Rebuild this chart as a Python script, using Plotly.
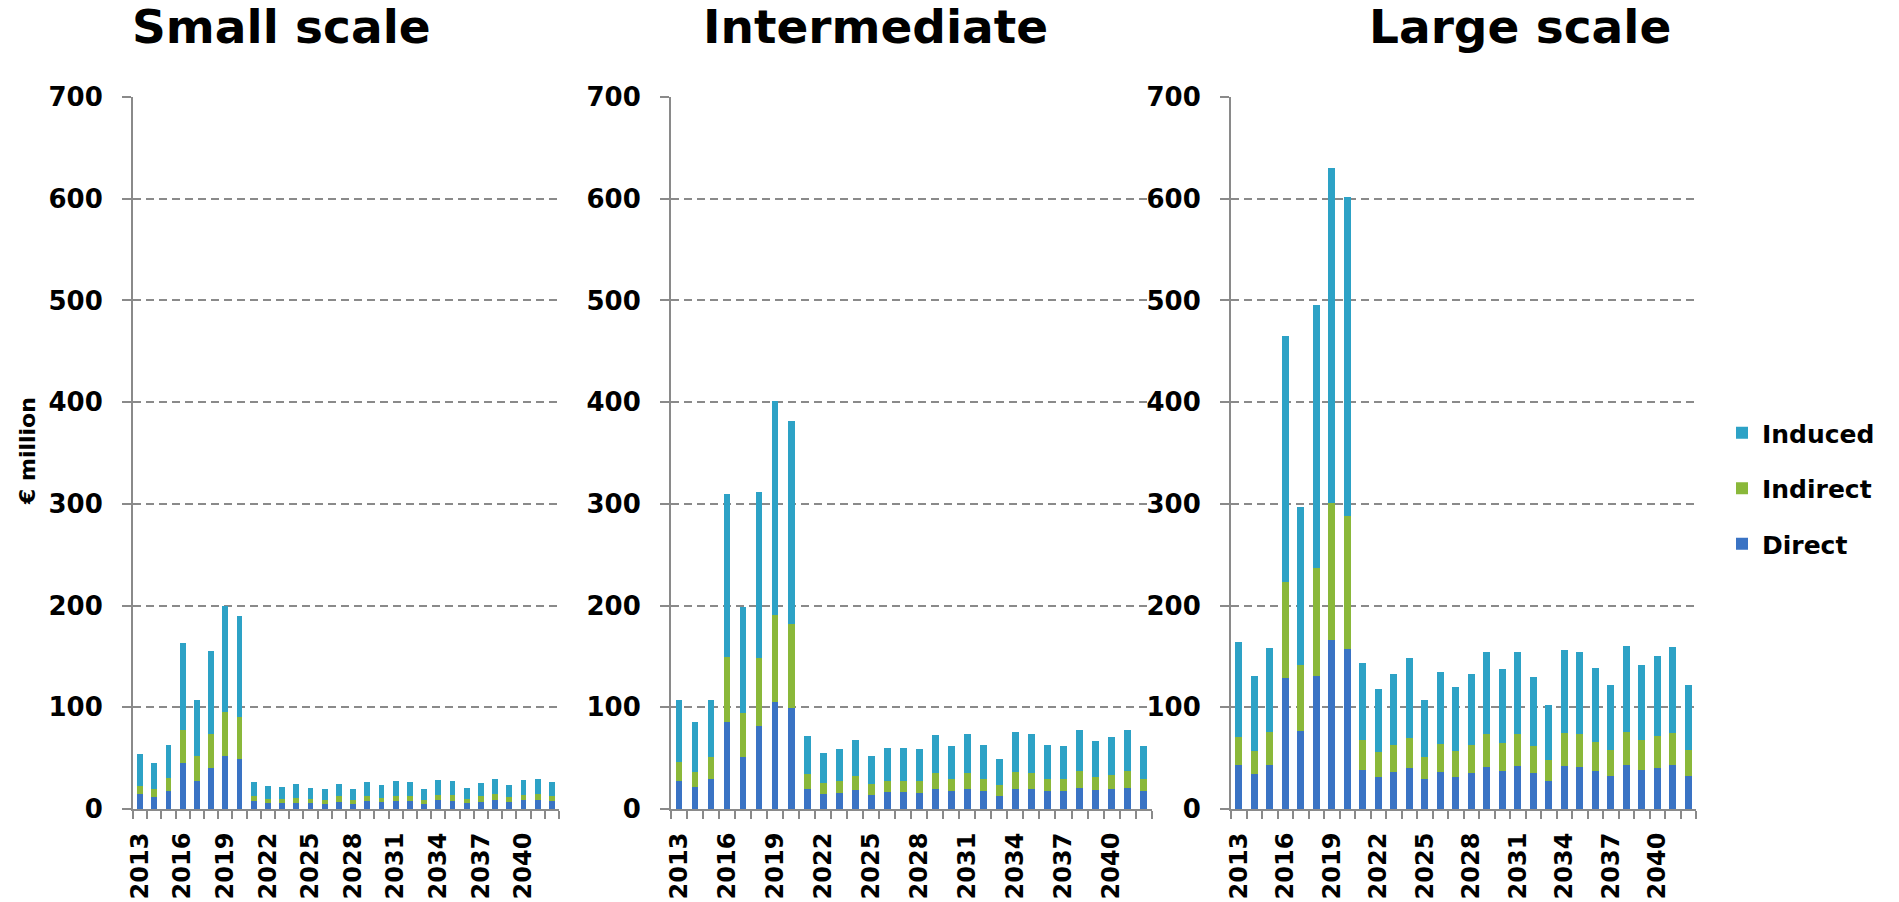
import plotly.graph_objects as go

years = list(range(2013, 2043))
tick_years = years[::3]
tick_labels = [str(y) for y in tick_years]
panel_titles = ["Small scale", "Intermediate", "Large scale"]
series_names = ["Direct", "Indirect", "Induced"]
y_ticks = [0, 100, 200, 300, 400, 500, 600, 700]
y_title = "€ million"

small_direct = [14.5, 12, 17.4, 45.5, 27.9, 40.2, 52, 49.4, 8.3, 6, 6, 6, 5.5, 5, 7, 5, 7.5, 6.5, 8, 7.5, 5, 8.5, 8, 6, 7, 8.5, 6.5, 8.5, 9, 7.5]
small_indirect = [8.5, 7.4, 12.6, 32.5, 23.8, 33.7, 43, 40.6, 4.2, 4, 4, 5, 4.5, 4, 5.5, 4, 5.5, 4.5, 5, 5.5, 4, 5.5, 6, 4, 6, 6.5, 5, 5.5, 6, 5.5]
small_induced = [31, 25.6, 33.4, 85, 55.7, 81.5, 105, 99.6, 14.5, 13, 12, 13.6, 11, 11, 12.5, 11, 14, 12.7, 15, 14, 11, 15, 14, 11, 13, 14.5, 12.5, 14.5, 14.5, 14]

inter_direct = [27.8, 21.9, 29.1, 85.6, 51.3, 81.7, 105.2, 99.3, 19.3, 14.4, 16, 19, 13.7, 16.4, 16.4, 16, 19.3, 17.4, 20, 17.4, 12.7, 20, 19.3, 17.4, 17.4, 21, 18.3, 19.3, 21, 17.4]
inter_indirect = [18.6, 14.7, 22.2, 63.7, 43.1, 66.7, 86, 82.7, 15.4, 11.6, 12, 13.4, 10.5, 11.6, 11.6, 12, 16, 11.7, 15.3, 12.4, 10.5, 16.3, 16.3, 12.4, 11.7, 16, 13.1, 13.7, 16, 11.7]
inter_induced = [60.5, 49, 55.6, 160.2, 103.9, 163.4, 210.4, 199.4, 36.6, 29, 30.8, 35.9, 27.5, 31.8, 31.8, 31.2, 37.6, 32.7, 38.6, 33.6, 25.5, 39.2, 38.3, 33.3, 32.7, 40.2, 35, 37.6, 40.2, 32.7]

large_direct = [43.3, 34.1, 43.3, 128.6, 76.6, 130.7, 166, 157.7, 38.6, 31.9, 36.5, 39.9, 29.2, 36.5, 31.9, 35.2, 41.5, 37.2, 42.2, 35.2, 27.2, 42.2, 41.5, 37.2, 32.6, 42.9, 37.9, 40.2, 42.9, 32.6]
large_indirect = [27.4, 23.3, 32, 94.4, 64.9, 106.1, 135.3, 129.9, 29.4, 24.6, 26.6, 30.2, 21.6, 27.6, 25.2, 27.9, 31.9, 27.6, 31.2, 26.3, 21.3, 32.2, 31.9, 28.6, 25.2, 33.2, 29.9, 31.6, 32.2, 25.2]
large_induced = [93.7, 73.7, 82.8, 241.8, 155.2, 259.2, 329.2, 314.1, 76, 61.4, 69.8, 78.4, 56.8, 70.5, 62.5, 69.8, 81.1, 72.4, 81.1, 68.7, 53.8, 81.7, 81.1, 72.4, 63.8, 83.7, 74.1, 78.4, 83.7, 63.8]

panels = [
    (small_direct, small_indirect, small_induced),
    (inter_direct, inter_indirect, inter_induced),
    (large_direct, large_indirect, large_induced),
]

colors = {"Direct": "#3a73c4", "Indirect": "#8ab83a", "Induced": "#2da2c6"}
legend_rank = {"Induced": 1, "Indirect": 2, "Direct": 3}
FONT = "Arial Black, DejaVu Sans, sans-serif"
W, H = 1899, 902

x_domains = [(133 / W, 559 / W), (671 / W, 1151.6 / W), (1231 / W, 1696 / W)]
y_domain = (1 - 809 / H, 1 - 97 / H)

fig = go.Figure()
for i, data in enumerate(panels):
    suffix = "" if i == 0 else str(i + 1)
    for name, vals in zip(series_names, data):
        fig.add_trace(go.Bar(
            x=years, y=vals, name=name,
            marker=dict(color=colors[name], line=dict(width=0)),
            xaxis="x" + suffix, yaxis="y" + suffix,
            legendgroup=name, legendrank=legend_rank[name],
            showlegend=(i == 2),
            width=0.42,
        ))

axis_gray = "#8a8a8a"
layout_axes = {}
for i in range(3):
    suffix = "" if i == 0 else str(i + 1)
    layout_axes["xaxis" + suffix] = dict(
        domain=list(x_domains[i]), anchor="y" + suffix, automargin=False,
        range=[2012.5, 2042.5], tickmode="array",
        tickvals=tick_years, ticktext=tick_labels, tickangle=-90,
        ticks="outside", ticklen=8, tickcolor="rgba(0,0,0,0)",
        minor=dict(ticks="outside", ticklen=8, tickcolor=axis_gray, tickwidth=2,
                   tick0=2012.5, dtick=1, showgrid=False),
        showline=True, linecolor=axis_gray, linewidth=2,
        showgrid=False, zeroline=False,
        tickfont=dict(family=FONT, size=24, color="black", weight="bold"),
        ticklabelstandoff=4,
    )
    layout_axes["yaxis" + suffix] = dict(
        domain=list(y_domain), anchor="x" + suffix, automargin=False,
        range=[0, 700], tickmode="array", tickvals=y_ticks,
        ticks="outside", ticklen=9, tickcolor=axis_gray, tickwidth=2,
        showline=True, linecolor=axis_gray, linewidth=2,
        showgrid=True, gridcolor=axis_gray, gridwidth=1.5, griddash="8px,5px",
        zeroline=False,
        tickfont=dict(family=FONT, size=26, color="black", weight="bold"),
        ticklabelstandoff=14,
    )

title_x = [281 / W, 875 / W, 1520 / W]
annotations = []
for t, xc in zip(panel_titles, title_x):
    annotations.append(dict(
        text=t, x=xc, y=1 - 27 / H, xref="paper", yref="paper",
        xanchor="center", yanchor="middle", showarrow=False,
        font=dict(family=FONT, size=47, color="black", weight="bold")))
annotations.append(dict(
    text=y_title, x=27 / W, y=1 - 451 / H, xref="paper", yref="paper",
    xanchor="center", yanchor="middle", showarrow=False, textangle=-90,
    font=dict(family=FONT, size=22, color="black", weight="bold")))

fig.update_layout(
    width=W, height=H, margin=dict(l=0, r=0, t=0, b=0, autoexpand=False),
    paper_bgcolor="white", plot_bgcolor="white",
    barmode="stack", showlegend=True,
    legend=dict(x=1722 / W, y=1 - 410 / H, xanchor="left", yanchor="top",
                traceorder="grouped", tracegroupgap=20,
                font=dict(family=FONT, size=25, color="black", weight="bold"),
                bgcolor="rgba(0,0,0,0)", itemclick=False),
    annotations=annotations,
    **layout_axes,
)

fig.write_html(
    "out.html",
    config={"displayModeBar": False},
    post_script="document.body.style.margin='0';document.body.style.overflow='hidden';",
)
